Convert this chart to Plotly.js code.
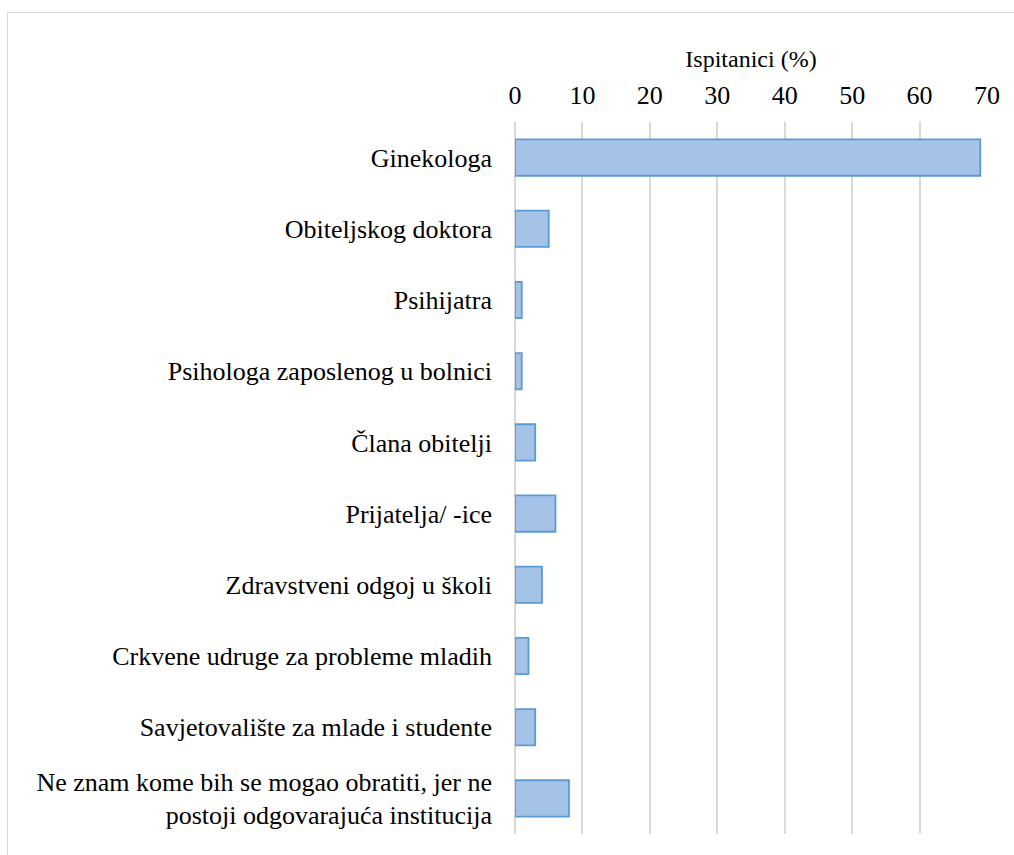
<!DOCTYPE html>
<html>
<head>
<meta charset="utf-8">
<script src="https://cdn.plot.ly/plotly-3.0.1.min.js"></script>
<style>
body { margin: 0; }
</style>
</head>
<body>
<div id="frame" style="position:absolute;left:7px;top:12px;width:1100px;height:1000px;border:1.5px solid #d9d9d9;box-sizing:border-box;"></div>
<div id="chart" style="position:absolute;left:0;top:0;width:1014px;height:855px"></div>
<script>
const categories = [
  "Ginekologa",
  "Obiteljskog doktora",
  "Psihijatra",
  "Psihologa zaposlenog u bolnici",
  "Člana obitelji",
  "Prijatelja/ -ice",
  "Zdravstveni odgoj u školi",
  "Crkvene udruge za probleme mladih",
  "Savjetovalište za mlade i studente",
  "Ne znam kome bih se mogao obratiti, jer ne<br>postoji odgovarajuća institucija"
];
const values = [69, 5, 1, 1, 3, 6, 4, 2, 3, 8];
const tickValues = [0, 10, 20, 30, 40, 50, 60, 70];
const axisTitle = "Ispitanici (%)";

const trace = {
  type: 'bar',
  orientation: 'h',
  x: values,
  y: categories,
  marker: { color: '#a5c2e7', line: { color: '#5b9bd5', width: 1.8 } }
};

const layout = {
  width: 1014,
  height: 855,
  paper_bgcolor: 'rgba(0,0,0,0)',
  plot_bgcolor: 'rgba(0,0,0,0)',
  margin: { l: 515, r: 27, t: 122, b: 21, pad: 0 },
  showlegend: false,
  bargap: 0.49,
  font: { family: 'Liberation Serif', color: '#000000', size: 26 },
  xaxis: {
    side: 'top',
    range: [0, 70],
    tickvals: tickValues,
    ticktext: tickValues.map(String),
    ticks: '',
    ticklabelstandoff: 12,
    gridcolor: '#d9d9d9',
    gridwidth: 1.8,
    zeroline: true,
    zerolinecolor: '#d9d9d9',
    zerolinewidth: 1.8,
    tickfont: { family: 'Liberation Serif', size: 26, color: '#000000' },
    title: { text: axisTitle, font: { family: 'Liberation Serif', size: 24, color: '#000000' }, standoff: 6 }
  },
  yaxis: {
    autorange: 'reversed',
    type: 'category',
    ticks: '',
    ticklabelstandoff: 22,
    showgrid: false,
    zeroline: false,
    tickfont: { family: 'Liberation Serif', size: 26, color: '#000000' }
  }
};

Plotly.newPlot('chart', [trace], layout, { displayModeBar: false });
</script>
</body>
</html>
